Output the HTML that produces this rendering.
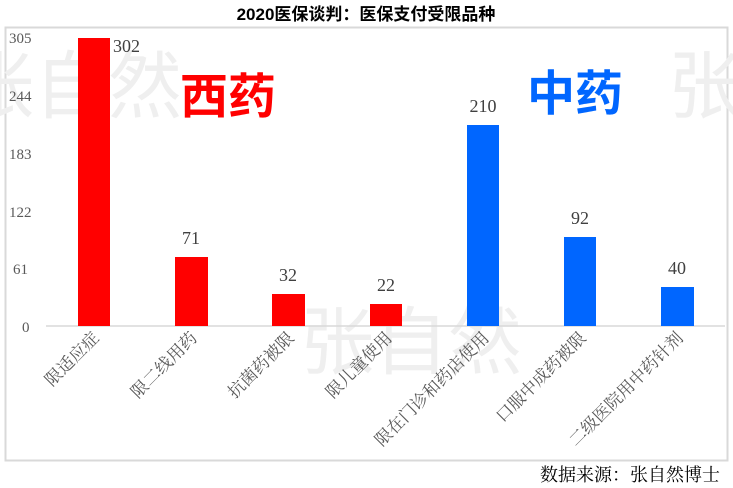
<!DOCTYPE html>
<html><head><meta charset="utf-8"><style>
body{margin:0;background:#fff;}
svg{display:block;font-family:"Liberation Serif","Noto Serif CJK SC",serif;}
</style></head><body>
<svg width="733" height="488" viewBox="0 0 733 488" xmlns="http://www.w3.org/2000/svg">
<rect width="733" height="488" fill="#fff"/>
<text x="366" y="20" text-anchor="middle" font-family="Liberation Sans,Noto Sans CJK SC,sans-serif" font-weight="bold" font-size="17" fill="#000">2020医保谈判：医保支付受限品种</text>
<rect x="5.5" y="27.5" width="722" height="433" fill="none" stroke="#d9d9d9" stroke-width="2"/>
<g fill="#efefef" font-family="Noto Sans CJK SC,sans-serif" font-size="74">
<text x="-40" y="112">张自然</text>
<text x="668" y="112">张</text>
<text x="300" y="368">张自然</text>
</g>
<g font-size="15" fill="#595959">
<text x="9" y="43">305</text><text x="9" y="101">244</text><text x="9" y="159">183</text>
<text x="9" y="217">122</text><text x="13" y="274">61</text><text x="22" y="332">0</text>
</g>
<line x1="46" y1="326" x2="725" y2="326" stroke="#d9d9d9" stroke-width="1.5"/>
<g fill="#ff0000">
<rect x="78" y="38" width="32" height="288"/>
<rect x="175" y="257" width="33" height="69"/>
<rect x="272" y="294" width="33" height="32"/>
<rect x="370" y="304" width="32" height="22"/>
</g>
<g fill="#0066ff">
<rect x="467" y="125" width="32" height="201"/>
<rect x="564" y="237" width="32" height="89"/>
<rect x="661" y="287" width="33" height="39"/>
</g>
<g font-size="18" fill="#404040">
<text x="113" y="52">302</text>
<text x="191" y="244" text-anchor="middle">71</text>
<text x="288" y="281" text-anchor="middle">32</text>
<text x="386" y="291" text-anchor="middle">22</text>
<text x="483" y="112" text-anchor="middle">210</text>
<text x="580" y="224" text-anchor="middle">92</text>
<text x="677" y="274" text-anchor="middle">40</text>
</g>
<text x="180" y="113" font-family="Liberation Sans,Noto Sans CJK SC,sans-serif" font-weight="bold" font-size="48" fill="#ff0000">西药</text>
<text x="527" y="110" font-family="Liberation Sans,Noto Sans CJK SC,sans-serif" font-weight="bold" font-size="48" fill="#0066ff">中药</text>
<g font-size="17" fill="#595959" text-anchor="end">
<text transform="translate(100,339) rotate(-45)">限适应症</text>
<text transform="translate(198,339) rotate(-45)">限二线用药</text>
<text transform="translate(295,339) rotate(-45)">抗菌药被限</text>
<text transform="translate(393,339) rotate(-45)">限儿童使用</text>
<text transform="translate(490,339) rotate(-45)">限在门诊和药店使用</text>
<text transform="translate(587,339) rotate(-45)">口服中成药被限</text>
<text transform="translate(684,339) rotate(-45)">二级医院用中药针剂</text>
</g>
<text x="720" y="481" text-anchor="end" font-size="18" fill="#000">数据来源：张自然博士</text>
</svg>
</body></html>
